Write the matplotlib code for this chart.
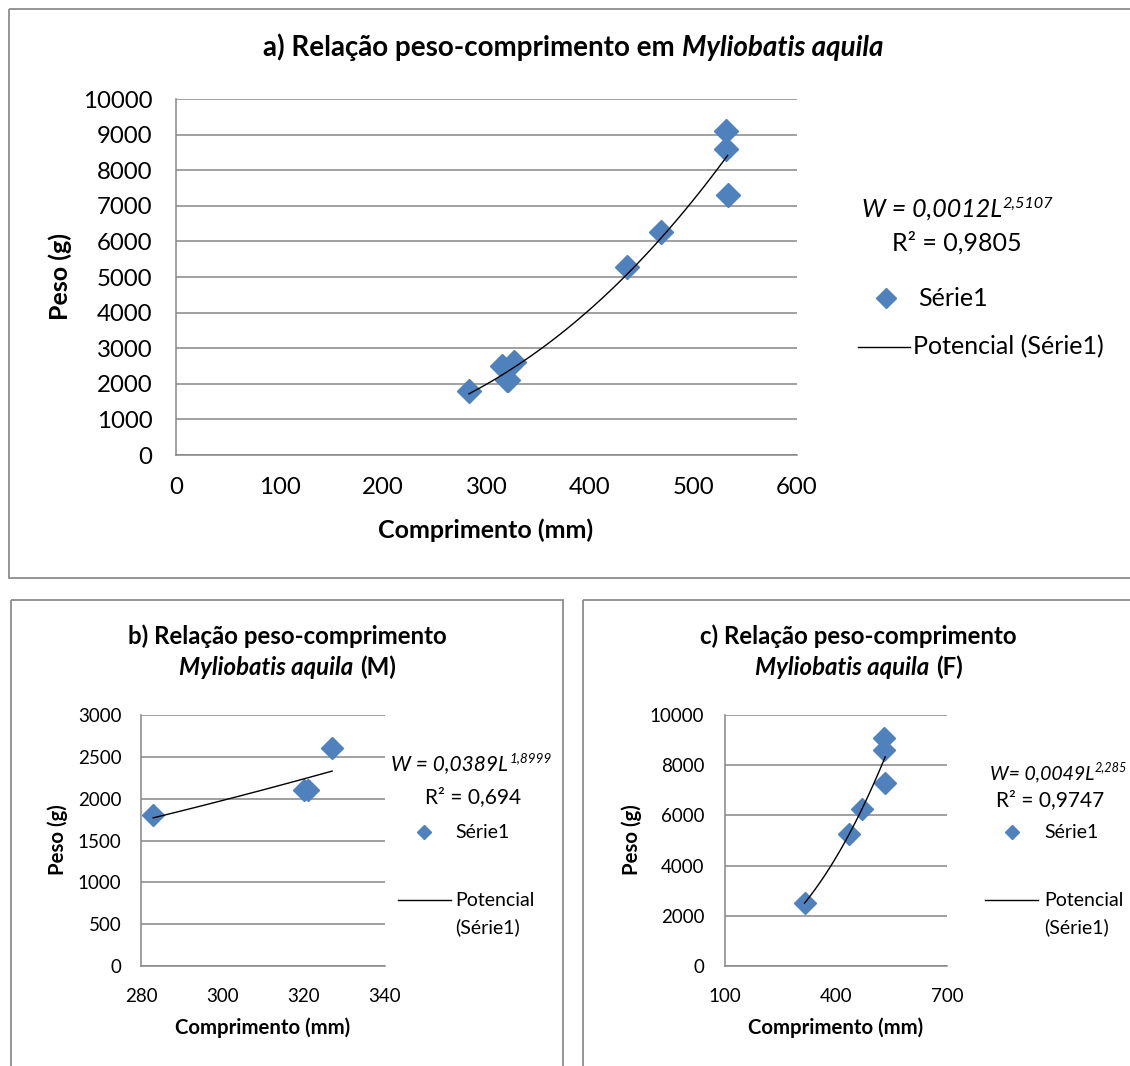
import numpy as np
import matplotlib
matplotlib.use('Agg')
import matplotlib.pyplot as plt
from matplotlib.patches import Rectangle

plt.rcParams['font.family'] = ['Lato', 'DejaVu Sans']

# a) todos os exemplares
comp_all = [283, 315, 320, 321, 327, 436, 469, 531, 531, 533]
peso_all = [1800, 2500, 2100, 2100, 2600, 5270, 6270, 9100, 8600, 7300]
# b) machos
comp_m = [283, 320, 321, 327]
peso_m = [1800, 2100, 2100, 2600]
# c) femeas
comp_f = [315, 436, 469, 531, 531, 533]
peso_f = [2500, 5270, 6270, 9100, 8600, 7300]

# linhas de tendencia potencial W = a*L^b
coef_all = (0.0012, 2.5107)
coef_m = (0.0389, 1.8999)
coef_f = (0.0049, 2.285)
eq_all = ('W = 0,0012L', '2,5107', 'R² = 0,9805')
eq_m = ('W = 0,0389L', '1,8999', 'R² = 0,694')
eq_f = ('W= 0,0049L', '2,285', 'R² = 0,9747')

BLUE = '#4F81BD'
GRID = '#868686'
W, H = 1130, 1066

fig = plt.figure(figsize=(W / 100, H / 100), dpi=100)
ov = fig.add_axes([0, 0, 1, 1])
ov.set_xlim(0, W)
ov.set_ylim(H, 0)
ov.axis('off')
r = fig.canvas.get_renderer()


def text_w(s, **kw):
    t = ov.text(0, 0, s, **kw)
    w = t.get_window_extent(r).width
    t.remove()
    return w


def rich(xc, y, parts, size, ha='center'):
    # parts: (text, style, weight, size_factor, dy); a leading space in text becomes a gap
    items = []
    for s, style, weight, f, dy in parts:
        kw = dict(fontsize=size * f, fontstyle=style, fontweight=weight)
        gap = 0
        if s.startswith(' '):
            gap = text_w('n n', **kw) - text_w('nn', **kw)
            s = s[1:]
        items.append((s, kw, dy, gap, text_w(s, **kw)))
    total = sum(i[3] + i[4] for i in items)
    x = xc - total / 2 if ha == 'center' else xc
    for s, kw, dy, gap, w in items:
        x += gap
        ov.text(x, y + dy, s, va='baseline', ha='left', **kw)
        x += w + 1


def style_ax(ax, xlim, xticks, ylim, yticks, size, xpad, ypad):
    ax.set_xlim(xlim)
    ax.set_ylim(ylim)
    ax.set_xticks(xticks)
    ax.set_yticks(yticks)
    ax.set_facecolor('none')
    ax.grid(axis='y', color=GRID, lw=1.1)
    ax.set_axisbelow(True)
    for sp in ['top', 'right']:
        ax.spines[sp].set_visible(False)
    for sp in ['left', 'bottom']:
        ax.spines[sp].set_color(GRID)
        ax.spines[sp].set_linewidth(1.1)
    ax.tick_params(axis='both', length=0, labelsize=size)
    ax.tick_params(axis='x', pad=xpad)
    ax.tick_params(axis='y', pad=ypad)


def draw(ax, comp, peso, coef, ms):
    ax.plot(comp, peso, 'D', color=BLUE, ms=ms, mec=BLUE, clip_on=False, zorder=3)
    xs = np.linspace(min(comp), max(comp), 100)
    ax.plot(xs, coef[0] * xs ** coef[1], color='black', lw=1.0, zorder=4)


def px_axes(l, t, rgt, b):
    return fig.add_axes([l / W, (H - b) / H, (rgt - l) / W, (b - t) / H])


# panel borders
for x0, y0, x1, y1 in [(8.5, 9, 1140, 578), (10.5, 599.5, 563, 1080), (583, 599.5, 1140, 1080)]:
    ov.add_patch(Rectangle((x0, y0), x1 - x0, y1 - y0, fill=False, ec='#8c8c8c', lw=1.3))

# a)
ax_a = px_axes(176, 99, 797, 455)
style_ax(ax_a, (0, 600), range(0, 601, 100), (0, 10000), range(0, 10001, 1000), 17.3, 16, 17)
draw(ax_a, comp_all, peso_all, coef_all, 12.5)
rich(573, 56, [('a) Relação peso-comprimento em', 'normal', 'bold', 1, 0),
               (' Myliobatis aquila', 'italic', 'bold', 1, 0)], 20)
ov.text(486, 530, 'Comprimento (mm)', fontsize=18, fontweight='bold', ha='center', va='center')
ov.text(60, 277, 'Peso (g)', fontsize=18, fontweight='bold', ha='center', va='center', rotation=90)
rich(957, 217, [(eq_all[0], 'italic', 'normal', 1, 0), (eq_all[1], 'italic', 'normal', 0.65, -9)], 18)
ov.text(957, 243, eq_all[2], fontsize=18, ha='center', va='center')
ov.plot([886], [298], 'D', color=BLUE, ms=10)
ov.text(918, 298, 'Série1', fontsize=18, va='center')
ov.plot([858, 910], [347, 347], color='black', lw=1.0)
ov.text(913, 347, 'Potencial (Série1)', fontsize=18, va='center')

# b)
ax_b = px_axes(141, 715, 385, 966)
style_ax(ax_b, (280, 340), range(280, 341, 20), (0, 3000), range(0, 3001, 500), 13.5, 16, 14)
draw(ax_b, comp_m, peso_m, coef_m, 11)
ov.text(287, 636, 'b) Relação peso-comprimento', fontsize=17.3, fontweight='bold', ha='center', va='center')
rich(287, 675, [('Myliobatis aquila', 'italic', 'bold', 1, 0), (' (M)', 'normal', 'bold', 1, 0)], 17.3)
ov.text(263, 1028, 'Comprimento (mm)', fontsize=14.7, fontweight='bold', ha='center', va='center')
ov.text(58, 840, 'Peso (g)', fontsize=14.7, fontweight='bold', ha='center', va='center', rotation=90)
rich(471, 770, [(eq_m[0], 'italic', 'normal', 1, 0), (eq_m[1], 'italic', 'normal', 0.65, -8)], 15)
ov.text(473, 797, eq_m[2], fontsize=15, ha='center', va='center')
ov.plot([424], [832], 'D', color=BLUE, ms=7)
ov.text(455, 832, 'Série1', fontsize=14, va='center')
ov.plot([398, 451], [900, 900], color='black', lw=1.0)
ov.text(455, 900, 'Potencial', fontsize=14, va='center')
ov.text(455, 927, '(Série1)', fontsize=14, va='center')

# c)
ax_c = px_axes(725, 715, 947, 966)
style_ax(ax_c, (100, 700), range(100, 701, 300), (0, 10000), range(0, 10001, 2000), 13.5, 16, 15)
draw(ax_c, comp_f, peso_f, coef_f, 11)
ov.text(858, 636, 'c) Relação peso-comprimento', fontsize=17.3, fontweight='bold', ha='center', va='center')
rich(858, 675, [('Myliobatis aquila', 'italic', 'bold', 1, 0), (' (F)', 'normal', 'bold', 1, 0)], 17.3)
ov.text(836, 1028, 'Comprimento (mm)', fontsize=14.7, fontweight='bold', ha='center', va='center')
ov.text(632, 840, 'Peso (g)', fontsize=14.7, fontweight='bold', ha='center', va='center', rotation=90)
rich(1058, 779, [(eq_f[0], 'italic', 'normal', 1, 0), (eq_f[1], 'italic', 'normal', 0.65, -8)], 14)
ov.text(1050, 800, eq_f[2], fontsize=15, ha='center', va='center')
ov.plot([1012], [832], 'D', color=BLUE, ms=7)
ov.text(1044, 832, 'Série1', fontsize=14, va='center')
ov.plot([985, 1038], [900, 900], color='black', lw=1.0)
ov.text(1044, 900, 'Potencial', fontsize=14, va='center')
ov.text(1044, 927, '(Série1)', fontsize=14, va='center')

fig.savefig('out.png', dpi=100)
